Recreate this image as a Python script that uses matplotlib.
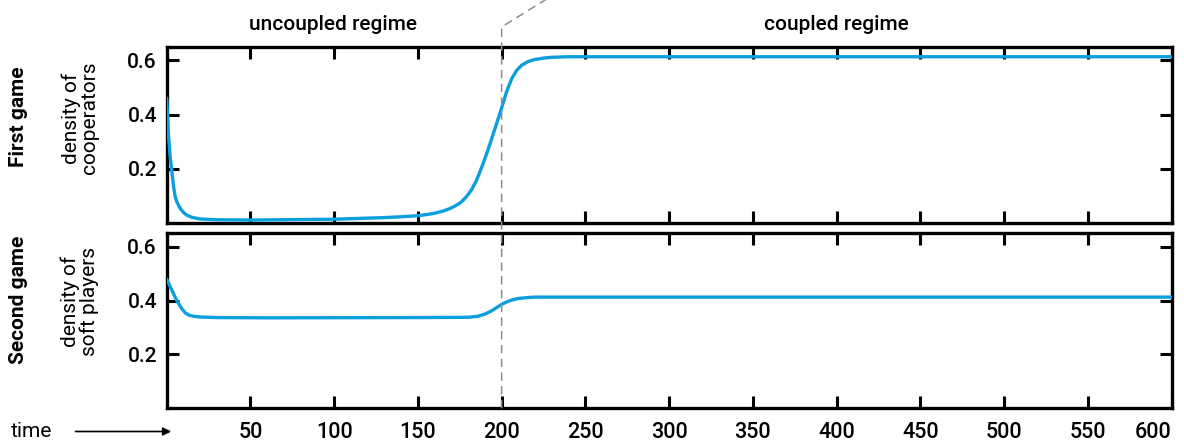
import matplotlib
matplotlib.use("Agg")
import matplotlib.pyplot as plt
from matplotlib.lines import Line2D
from matplotlib.patches import FancyArrowPatch

plt.rcParams["font.family"] = ["Roboto", "DejaVu Sans"]

# values
t_coop = [0, 1, 2, 3, 4, 5, 6, 8, 10, 12, 15, 20, 30, 50, 100, 130, 140, 150,
          155, 160, 165, 169, 172, 175, 177, 179, 182, 185, 188, 191, 194, 197,
          200, 203, 206, 209, 212, 216, 220, 225, 230, 240, 600]
coop = [0.46, 0.33, 0.25, 0.195, 0.14, 0.10, 0.08, 0.055, 0.04, 0.03, 0.022,
        0.016, 0.013, 0.012, 0.015, 0.021, 0.024, 0.028, 0.032, 0.037, 0.045,
        0.054, 0.063, 0.074, 0.085, 0.098, 0.123, 0.158, 0.205, 0.255, 0.31,
        0.367, 0.425, 0.485, 0.532, 0.563, 0.582, 0.596, 0.603, 0.608, 0.611,
        0.613, 0.613]

t_soft = [0, 3, 6, 9, 11, 13, 16, 20, 30, 60, 150, 180, 186, 190, 194, 197,
          200, 203, 206, 210, 215, 220, 230, 600]
soft = [0.48, 0.44, 0.40, 0.37, 0.355, 0.347, 0.342, 0.339, 0.337, 0.336,
        0.337, 0.338, 0.342, 0.350, 0.362, 0.374, 0.386, 0.395, 0.402, 0.408,
        0.411, 0.413, 0.413, 0.413]

xticks = [50, 100, 150, 200, 250, 300, 350, 400, 450, 500, 550, 600]
yticks = [0.2, 0.4, 0.6]
t_switch = 200

blue = "#0b9fe0"
W, H = 1184, 443

fig = plt.figure(figsize=(W / 100, H / 100), dpi=100)
ax1 = fig.add_axes([166.7 / W, 1 - 223.3 / H, (1171.5 - 166.7) / W, (223.3 - 46.7) / H])
ax2 = fig.add_axes([166.7 / W, 1 - 408.3 / H, (1171.5 - 166.7) / W, (408.3 - 233.3) / H])

for ax, t, y in [(ax1, t_coop, coop), (ax2, t_soft, soft)]:
    ax.plot(t, y, color=blue, lw=2.4, solid_capstyle="round", zorder=3)
    ax.set_xlim(0, 600)
    ax.set_ylim(0, 0.65)
    ax.set_xticks(xticks)
    ax.set_yticks(yticks)
    ax.set_yticklabels([f"{v:.1f}" for v in yticks], fontsize=15, fontweight="medium")
    ax.tick_params(direction="in", length=8.5, width=2.2, top=True, right=True,
                   color="black")
    ax.tick_params(axis="y", pad=7)
    ax.tick_params(axis="x", pad=10)
    for s in ax.spines.values():
        s.set_linewidth(2.4)

ax1.set_xticklabels([])
ax2.set_xticklabels([str(v) for v in xticks], fontsize=15.5, fontweight="medium")
last = ax2.get_xticklabels()[-1]
last.set_horizontalalignment("right")

# row labels
fig.text(19 / W, 1 - 117 / H, "First game", rotation=90, ha="center", va="center",
         fontsize=15, fontweight="bold")
fig.text(80 / W, 1 - 118 / H, "density of\ncooperators", rotation=90, ha="center",
         va="center", fontsize=15, linespacing=0.95)
fig.text(19 / W, 1 - 300 / H, "Second game", rotation=90, ha="center", va="center",
         fontsize=15, fontweight="bold")
fig.text(80 / W, 1 - 301.7 / H, "density of\nsoft players", rotation=90, ha="center",
         va="center", fontsize=15, linespacing=0.95)

fig.text(333.3 / W, 1 - 24.5 / H, "uncoupled regime", ha="center", va="center",
         fontsize=15, fontweight="medium")
fig.text(836.3 / W, 1 - 24.5 / H, "coupled regime", ha="center", va="center",
         fontsize=15, fontweight="medium")

fig.text(31.7 / W, 1 - 431.5 / H, "time", ha="center", va="center", fontsize=15)
fig.add_artist(FancyArrowPatch((72.7 / W, 1 - 431.5 / H), (174 / W, 1 - 431.5 / H),
                               transform=fig.transFigure, arrowstyle="-|>",
                               mutation_scale=12, lw=1.2, color="black"))

# regime switch marker
xs = fig.transFigure.inverted().transform(ax1.transData.transform((t_switch, 0)))[0]
fig.add_artist(Line2D([xs, xs, xs + 45 / W], [1 - 408.3 / H, 1 - 27 / H, 1 + 1 / H],
                      transform=fig.transFigure, color="#8c8c8c", lw=1.1,
                      dashes=(5.5, 3.5), zorder=1))

fig.savefig("out.png", dpi=100)
